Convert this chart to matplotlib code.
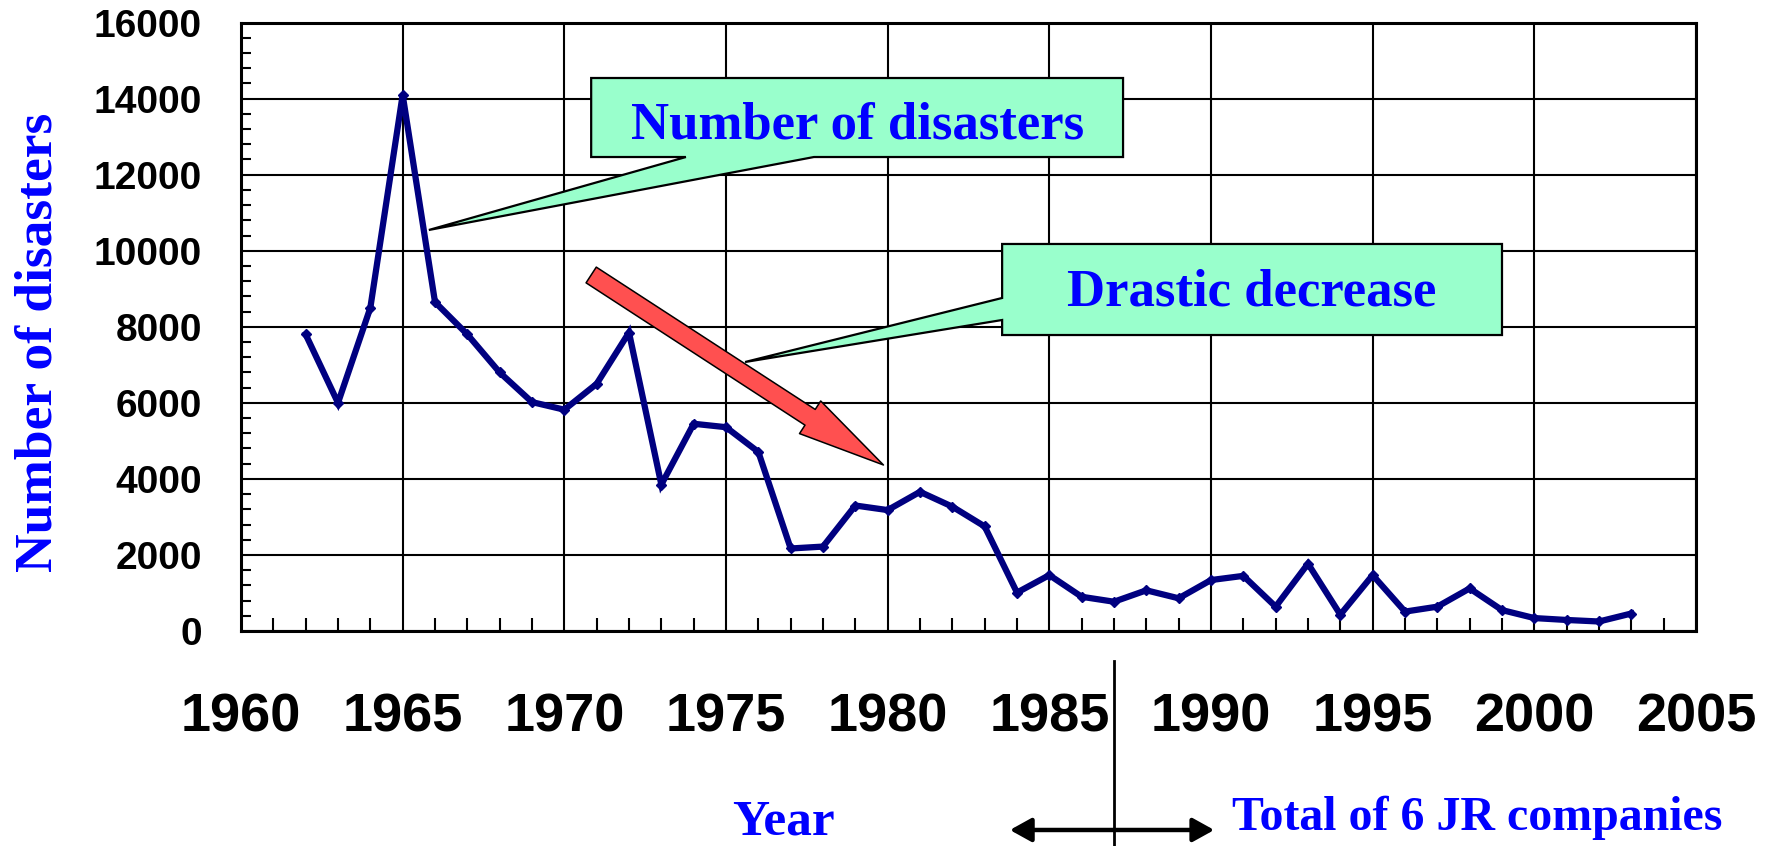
import matplotlib
matplotlib.use("Agg")
import matplotlib.pyplot as plt
from matplotlib.patches import Polygon, FancyArrowPatch, ArrowStyle
from matplotlib.ticker import MultipleLocator

# Yearly number of railway disasters (total of the 6 JR companies after 1987)
years = list(range(1962, 2004))
disasters = [7800, 6000, 8500, 14100, 8650, 7800, 6800, 6020, 5820, 6500,
             7850, 3850, 5450, 5360, 4710, 2170, 2220, 3300, 3180, 3660,
             3270, 2750, 1010, 1470, 900, 770, 1070, 860, 1340, 1450,
             640, 1770, 430, 1470, 510, 640, 1120, 550, 340, 290,
             250, 460]

x_ticks = [1960, 1965, 1970, 1975, 1980, 1985, 1990, 1995, 2000, 2005]
y_ticks = [0, 2000, 4000, 6000, 8000, 10000, 12000, 14000, 16000]
jr_year = 1987

SANS = ["Liberation Sans", "DejaVu Sans"]
SERIF = ["Liberation Serif", "DejaVu Serif"]
BLUE = "#0000FF"
MINT = "#99FFCC"
NAVY = "#000080"

fig = plt.figure(figsize=(17.73, 8.46), dpi=100)
ax = fig.add_axes([241 / 1773, 1 - 631 / 846, 1455 / 1773, 608.4 / 846])

ax.set_xlim(1960, 2005)
ax.set_ylim(0, 16000)

ax.set_xticks(x_ticks)
ax.set_xticklabels([str(t) for t in x_ticks], fontsize=39, fontweight="bold",
                   family=SANS)
ax.set_yticks(y_ticks)
ax.set_yticklabels([str(t) for t in y_ticks], fontsize=28, fontweight="bold",
                   family=SANS)
ax.xaxis.set_minor_locator(MultipleLocator(1))
ax.yaxis.set_minor_locator(MultipleLocator(400))

ax.tick_params(axis="x", which="major", direction="in", length=0, pad=44)
ax.tick_params(axis="y", which="major", direction="in", length=0, pad=28)
ax.tick_params(axis="x", which="minor", direction="in", length=9.4, width=1.5,
               color="black")
ax.tick_params(axis="y", which="minor", direction="in", length=7, width=1.5,
               color="black")

ax.grid(which="major", color="black", linewidth=1.5)
ax.set_axisbelow(True)
for sp in ax.spines.values():
    sp.set_linewidth(2.2)
    sp.set_color("black")

# Main series
ax.plot(years, disasters, color=NAVY, linewidth=4.5, marker="D", markersize=5,
        markerfacecolor=NAVY, markeredgecolor=NAVY, zorder=4,
        solid_joinstyle="miter")

# Callout: "Number of disasters"
box1 = [(1970.83, 14543), (1987.28, 14543), (1987.28, 12465),
        (1977.72, 12465), (1965.81, 10546), (1973.76, 12465),
        (1970.83, 12465)]
ax.add_patch(Polygon(box1, closed=True, facecolor=MINT, edgecolor="black",
                     linewidth=1.6, zorder=5, joinstyle="miter"))
ax.text(1979.08, 12957, "Number of disasters", ha="center", va="baseline",
        fontsize=38, fontweight="bold", family=SERIF, color=BLUE, zorder=6)

# Callout: "Drastic decrease"
box2 = [(1983.54, 10178), (1999.0, 10178), (1999.0, 7784),
        (1983.54, 7784), (1983.54, 8179), (1975.59, 7074),
        (1983.54, 8758)]
ax.add_patch(Polygon(box2, closed=True, facecolor=MINT, edgecolor="black",
                     linewidth=1.6, zorder=5, joinstyle="miter"))
ax.text(1991.27, 8573, "Drastic decrease", ha="center", va="baseline",
        fontsize=38, fontweight="bold", family=SERIF, color=BLUE, zorder=6)

# Red trend arrow
trend = FancyArrowPatch(
    (1970.83, 9363), (1979.87, 4366),
    arrowstyle=ArrowStyle.Simple(head_length=63, head_width=28, tail_width=13.5),
    mutation_scale=1, shrinkA=0, shrinkB=0,
    facecolor="#FF5050", edgecolor="black", linewidth=1.1, zorder=7)
ax.add_patch(trend)

# Y axis title
fig.text(52 / 1773, 1 - 342 / 846, "Number of disasters", rotation=90,
         rotation_mode="anchor", ha="center", va="baseline", fontsize=38.5,
         fontweight="bold", family=SERIF, color=BLUE)

# X axis title and JR period marker
fig.text(783 / 1773, 1 - 834 / 846, "Year", ha="center", va="baseline",
         fontsize=37, fontweight="bold", family=SERIF, color=BLUE)
fig.text(1232 / 1773, 1 - 830 / 846, "Total of 6 JR companies", ha="left",
         va="baseline", fontsize=34.5, fontweight="bold", family=SERIF,
         color=BLUE)

ax.plot([jr_year, jr_year], [-790, -6000], color="black", linewidth=2.0,
        clip_on=False, zorder=3)
span = FancyArrowPatch(
    (1983.78, -5233), (1990.1, -5233),
    arrowstyle=ArrowStyle("<|-|>", head_length=13, head_width=7.2),
    mutation_scale=1, shrinkA=0, shrinkB=0, color="black", linewidth=3.2,
    clip_on=False, zorder=3)
ax.add_patch(span)

fig.savefig("out.png", dpi=100)
